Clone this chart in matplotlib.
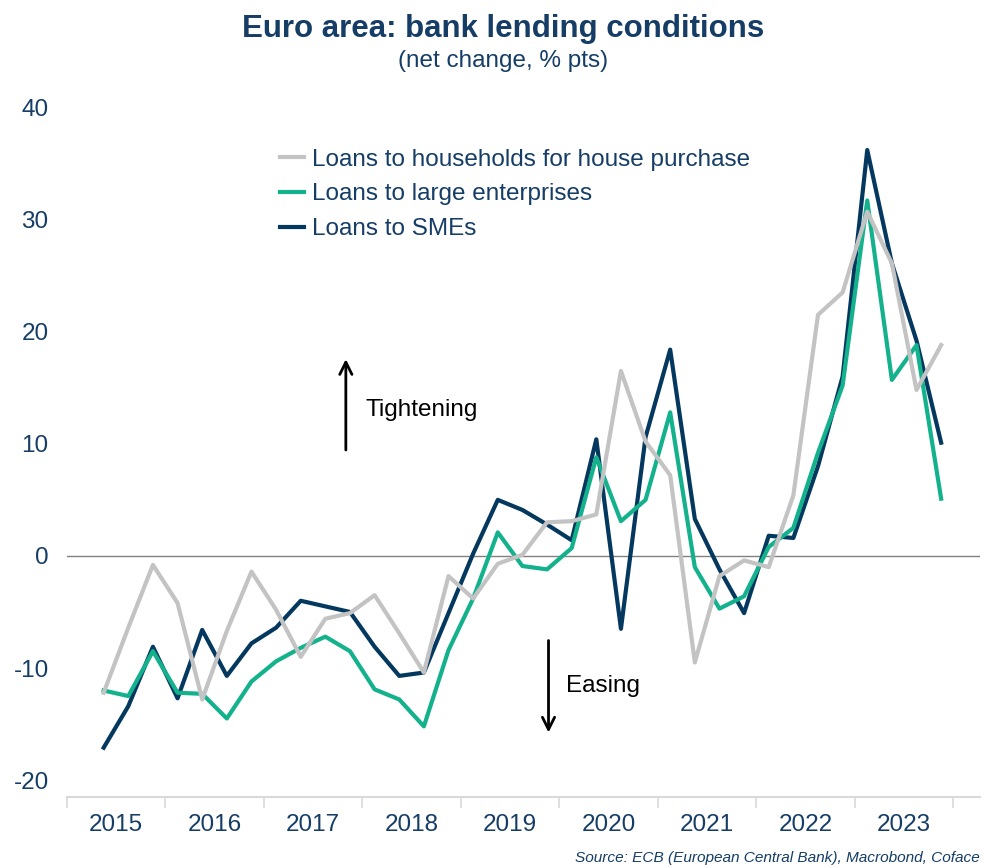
import numpy as np
import matplotlib
matplotlib.use("Agg")
import matplotlib.pyplot as plt

plt.rcParams['font.family'] = ['Liberation Sans', 'DejaVu Sans']
plt.rcParams['axes.unicode_minus'] = False

# quarters 2015Q2 .. 2023Q4
quarters = ["%dQ%d" % (y, q) for y in range(2015, 2024) for q in range(1, 5)][1:]

households = [-12.2, -6.4, -0.8, -4.2, -12.8, -6.7, -1.4, -4.8, -9.0, -5.6,
              -5.1, -3.5, -6.9, -10.4, -1.8, -3.8, -0.7, 0.1, 3.0, 3.1,
              3.7, 16.5, 10.2, 7.2, -9.5, -1.8, -0.4, -1.0, 5.4, 21.5,
              23.5, 30.7, 26.1, 14.8, 18.8]
large_ent  = [-12.0, -12.5, -8.5, -12.2, -12.3, -14.5, -11.2, -9.4, -8.2, -7.2,
              -8.5, -11.9, -12.8, -15.2, -8.4, -3.8, 2.1, -0.9, -1.2, 0.7,
              8.8, 3.1, 5.0, 12.8, -1.0, -4.7, -3.6, 0.8, 2.5, 9.2,
              15.2, 31.7, 15.7, 18.8, 5.1]
smes       = [-17.1, -13.4, -8.1, -12.7, -6.6, -10.7, -7.8, -6.4, -4.0, -4.5,
              -5.0, -8.1, -10.7, -10.4, -5.1, 0.2, 5.0, 4.1, 2.8, 1.4,
              10.4, -6.5, 10.6, 18.4, 3.3, -1.2, -5.1, 1.8, 1.6, 8.0,
              16.0, 36.2, 26.1, 19.2, 10.1]

years = list(range(2015, 2024))

NAVY  = "#04385f"
GREEN = "#13b28d"
GREY  = "#c3c3c3"
TXT   = "#153d66"

# quarter midpoints
x = np.array([int(q[:4]) + (int(q[-1]) - 0.5) / 4 for q in quarters])

fig = plt.figure(figsize=(9.84, 8.68), dpi=100)
ax = fig.add_axes([0.0678, 0.0818, 0.996 - 0.0678, 0.884 - 0.0818])

# navy at the bottom, grey on top (legend keeps grey first)
ax.plot(x, households, color=GREY, lw=3.0, label="Loans to households for house purchase", zorder=4)
ax.plot(x, large_ent, color=GREEN, lw=3.0, label="Loans to large enterprises", zorder=3)
ax.plot(x, smes, color=NAVY, lw=3.0, label="Loans to SMEs", zorder=2)

ax.axhline(0, color="#808080", lw=1.0, zorder=1)

ax.set_xlim(2015, 2024.27)
ax.set_ylim(-21.5, 40.6)

# x axis: ticks at year boundaries, labels centred in the year
ax.set_xticks(list(years) + [2024])
ax.set_xticklabels([])
ax.set_xticks([y + 0.5 for y in years], minor=True)
ax.set_xticklabels([str(y) for y in years], minor=True)
ax.tick_params(axis="x", which="major", length=8, width=1.2, color="#d9d9d9", direction="out")
ax.tick_params(axis="x", which="minor", length=0, pad=12, labelsize=17.5, labelcolor=TXT)

ax.set_yticks([-20, -10, 0, 10, 20, 30, 40])
ax.tick_params(axis="y", length=0, pad=13, labelsize=17.5, labelcolor=TXT)

for s in ["top", "right", "left"]:
    ax.spines[s].set_visible(False)
ax.spines["bottom"].set_color("#d9d9d9")
ax.spines["bottom"].set_linewidth(1.5)

leg = ax.legend(loc="upper left", bbox_to_anchor=(0.2336, 0.931), frameon=False,
                fontsize=17.5, handlelength=1.0, handletextpad=0.3, labelspacing=0.52,
                borderaxespad=0, borderpad=0)
for t in leg.get_texts():
    t.set_color(TXT)

# tightening / easing arrows
ax.annotate("", xy=(2017.833, 17.8), xytext=(2017.833, 9.2),
            arrowprops=dict(arrowstyle="->", color="black", lw=2, mutation_scale=22))
ax.text(2018.03, 13.0, "Tightening", fontsize=17.5, color="black", va="center", ha="left")
ax.annotate("", xy=(2019.89, -16.0), xytext=(2019.89, -7.3),
            arrowprops=dict(arrowstyle="->", color="black", lw=2, mutation_scale=22))
ax.text(2020.07, -11.6, "Easing", fontsize=17.5, color="black", va="center", ha="left")

fig.text(0.511, 0.967, "Euro area: bank lending conditions", ha="center", va="center",
         fontsize=22.5, fontweight="bold", color=TXT)
fig.text(0.511, 0.930, "(net change, % pts)", ha="center", va="center",
         fontsize=17.5, color=TXT)
fig.text(0.996, 0.012, "Source: ECB (European Central Bank), Macrobond, Coface", ha="right",
         va="center", fontsize=11.1, style="italic", color=TXT)

fig.savefig("out.png", dpi=100)
